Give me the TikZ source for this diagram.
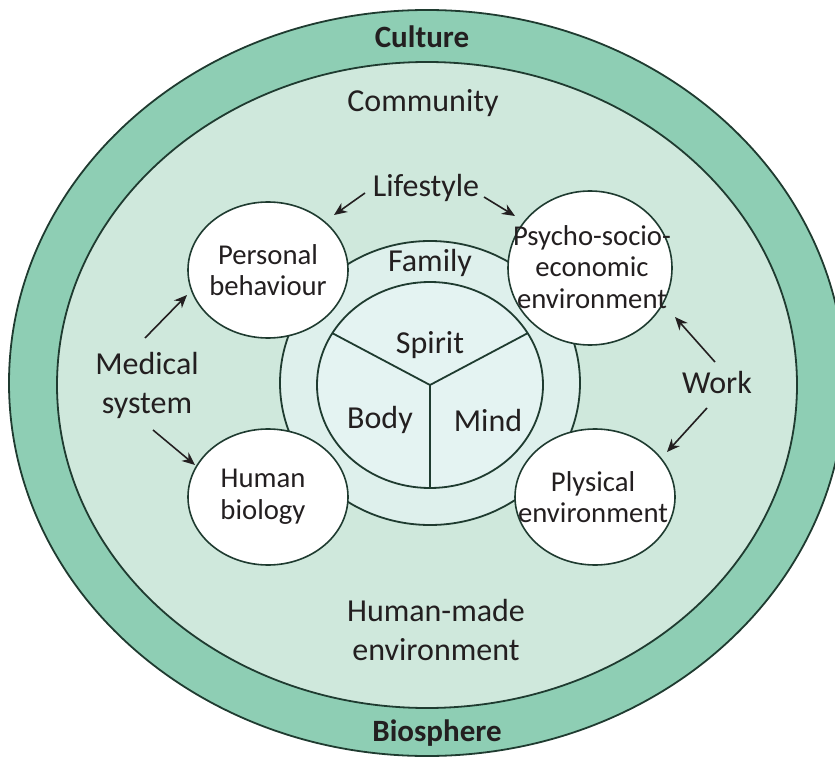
\documentclass[tikz,border=0pt]{standalone}
\usepackage{fontspec}
\setmainfont{Carlito}
\usetikzlibrary{shapes.geometric,arrows.meta}
\definecolor{band}{HTML}{8ECEB4}
\definecolor{comm}{HTML}{CFE8DC}
\definecolor{fam}{HTML}{DEF0EC}
\definecolor{core}{HTML}{E4F3F2}
\definecolor{edge}{HTML}{1F3B30}
\definecolor{ink}{HTML}{231F20}
\begin{document}
\begin{tikzpicture}[x=1pt,y=-1pt,
  ring/.style={draw=edge, line width=1.8pt},
  factor/.style={ellipse, draw=edge, line width=1.6pt, fill=white,
    minimum width=160pt, minimum height=136pt, inner sep=0pt},
  ftext/.style={align=center, inner sep=0pt, font=\fontsize{28.7}{31.5}\selectfont, text=ink},
  lbl/.style={align=center, font=\fontsize{32}{39}\selectfont, text=ink},
  blbl/.style={font=\fontsize{31}{37}\selectfont\bfseries, text=ink},
  arr/.style={-{Stealth[length=13pt,width=11pt]}, line width=1.6pt, draw=ink}]
\useasboundingbox (0,0) rectangle (835,759);
\fill[white] (0,0) rectangle (835,759);
% rings
\draw[ring, fill=band] (427,383) ellipse [x radius=418pt, y radius=373pt];
\draw[ring, fill=comm] (427,385) ellipse [x radius=370pt, y radius=323pt];
\draw[ring, fill=fam] (430,383) ellipse [x radius=150pt, y radius=142pt];
\draw[ring, fill=core] (430,385) ellipse [x radius=113pt, y radius=103pt];
% dividers
\coordinate (hub) at (430,385);
\coordinate (dl) at (332,333);
\coordinate (dr) at (528,333);
\coordinate (db) at (430,488);
\draw[ring] (hub) -- (dl);
\draw[ring] (hub) -- (dr);
\draw[ring] (hub) -- (db);
% factor circles
\node[factor] (pb) at (268,270) {};
\node[factor, minimum width=164pt, minimum height=154pt] (pse) at (590,268) {};
\node[factor] (hb) at (268,497) {};
\node[factor] (pe) at (595,497) {};
\node[ftext] (pbt) at (268,270) {Personal\\behaviour};
\node[ftext] (pset) at (592,267) {Psycho-socio-\\economic\\environment};
\node[ftext] (hbt) at (263,497) {Human\\biology};
\node[ftext] (pet) at (593,497) {Plysical\\environment};
% labels
\node[blbl] (culture) at (422,37) {Culture};
\node[lbl] (community) at (423,103) {Community};
\node[lbl] (lifestyle) at (426,188) {Lifestyle};
\node[lbl] (family) at (430,263) {Family};
\node[lbl] (spirit) at (430,345) {Spirit};
\node[lbl] (body) at (380,420) {Body};
\node[lbl] (mind) at (488,420) {Mind};
\node[lbl] (medical) at (147,385) {Medical\\system};
\node[lbl] (work) at (717,382) {Work};
\node[lbl] (humanmade) at (436,630) {Human-made\\environment};
\node[blbl] (biosphere) at (437,733) {Biosphere};
% arrow end points
\coordinate (ls1) at (365,193); \coordinate (le1) at (334,215);
\coordinate (ls2) at (484,197); \coordinate (le2) at (515,216);
\coordinate (ms1) at (145,338); \coordinate (me1) at (187,295);
\coordinate (ms2) at (153,430); \coordinate (me2) at (195,465);
\coordinate (ws1) at (715,362); \coordinate (we1) at (675,317);
\coordinate (ws2) at (707,408); \coordinate (we2) at (667,452);
\draw[arr] (ls1) -- (le1);
\draw[arr] (ls2) -- (le2);
\draw[arr] (ms1) -- (me1);
\draw[arr] (ms2) -- (me2);
\draw[arr] (ws1) -- (we1);
\draw[arr] (ws2) -- (we2);
\end{tikzpicture}
\end{document}
